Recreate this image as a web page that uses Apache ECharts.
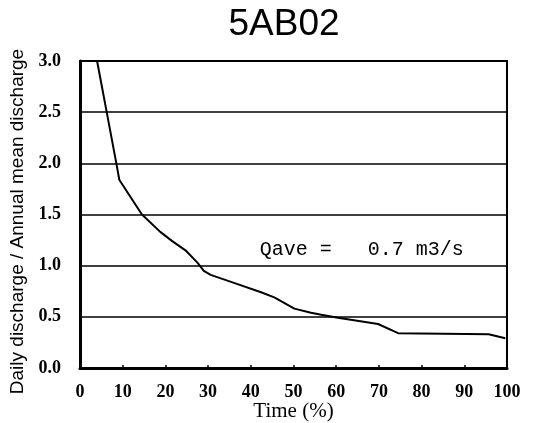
<!DOCTYPE html>
<html>
<head>
<meta charset="utf-8">
<script src="https://cdn.jsdelivr.net/npm/echarts@6/dist/echarts.min.js"></script>
<style>
  html, body { margin: 0; padding: 0; background: #fff; }
  #chart { width: 535px; height: 423px; }
</style>
</head>
<body>
<div id="chart"></div>
<script>
// ---- data ----
const titleText = '5AB02';
const xTicks = [0, 10, 20, 30, 40, 50, 60, 70, 80, 90, 100];
const yTicks = [0.0, 0.5, 1.0, 1.5, 2.0, 2.5, 3.0];
const timePct = [4.0, 6.3, 8.6, 9.2, 14.5, 18.8, 21.6, 24.7, 27.5, 29.0, 30.6, 36.9, 42.4, 45.5, 50.2, 54.1, 56.5, 60.4, 69.8, 74.5, 95.7, 99.6];
const ratio   = [3.0, 2.49, 1.98, 1.84, 1.50, 1.33, 1.24, 1.15, 1.03, 0.95, 0.91, 0.82, 0.74, 0.69, 0.58, 0.54, 0.52, 0.49, 0.43, 0.34, 0.33, 0.29];
const noteText = 'Qave =   0.7 m3/s';
const noteAt = [66, 1.16];

const chart = echarts.init(document.getElementById('chart'), null, { renderer: 'canvas' });
const serif = '"Liberation Serif", "DejaVu Serif", serif';
chart.setOption({
  backgroundColor: '#ffffff',
  animation: false,
  title: {
    text: titleText,
    left: 279, top: 1, textAlign: 'center',
    textStyle: { fontFamily: '"Liberation Sans", Arial, sans-serif', fontSize: 37, fontWeight: 'normal', color: '#000' }
  },
  grid: {
    left: 80, right: 28, top: 61, bottom: 55,
    containLabel: false, outerBoundsMode: 'none',
    show: true, borderColor: '#000', borderWidth: 2, backgroundColor: 'transparent'
  },
  xAxis: {
    type: 'value', min: 0, max: 100, interval: 10,
    name: 'Time (%)', nameLocation: 'middle', nameGap: 33, nameMoveOverlap: false,
    nameTextStyle: { fontFamily: serif, fontSize: 21, color: '#000' },
    axisLine: { show: true, lineStyle: { color: '#000', width: 3 } },
    axisTick: { show: true, inside: true, length: 3, lineStyle: { color: '#000', width: 1.5 } },
    axisLabel: { fontFamily: serif, fontSize: 18, color: '#000', margin: 15, fontWeight: 'bold',
      formatter: v => xTicks.includes(v) ? String(v) : '' },
    splitLine: { show: false }
  },
  yAxis: {
    type: 'value', min: 0, max: 3, interval: 0.5,
    name: 'Daily discharge / Annual mean discharge', nameLocation: 'middle', nameGap: 53, nameMoveOverlap: false,
    nameTextStyle: { fontFamily: '"Liberation Sans", sans-serif', fontSize: 19, color: '#000', padding: [0, 14, 0, 0] },
    axisLine: { show: true, lineStyle: { color: '#000', width: 3 } },
    axisTick: { show: false },
    axisLabel: { fontFamily: serif, fontSize: 18, color: '#000', margin: 19, fontWeight: 'bold',
      formatter: v => yTicks.includes(v) ? v.toFixed(1) : '' },
    splitLine: { show: true, lineStyle: { color: '#000', width: 1.6 } }
  },
  series: [{
    type: 'line',
    data: timePct.map((x, i) => [x, ratio[i]]),
    showSymbol: false,
    smooth: false,
    lineStyle: { color: '#000', width: 2 },
    markPoint: {
      symbol: 'circle', symbolSize: 0,
      data: [{ coord: noteAt, value: noteText }],
      label: {
        show: true, position: 'inside', formatter: noteText,
        fontFamily: '"Liberation Mono", "DejaVu Sans Mono", monospace',
        fontSize: 20, color: '#000'
      }
    }
  }]
});
</script>
</body>
</html>
